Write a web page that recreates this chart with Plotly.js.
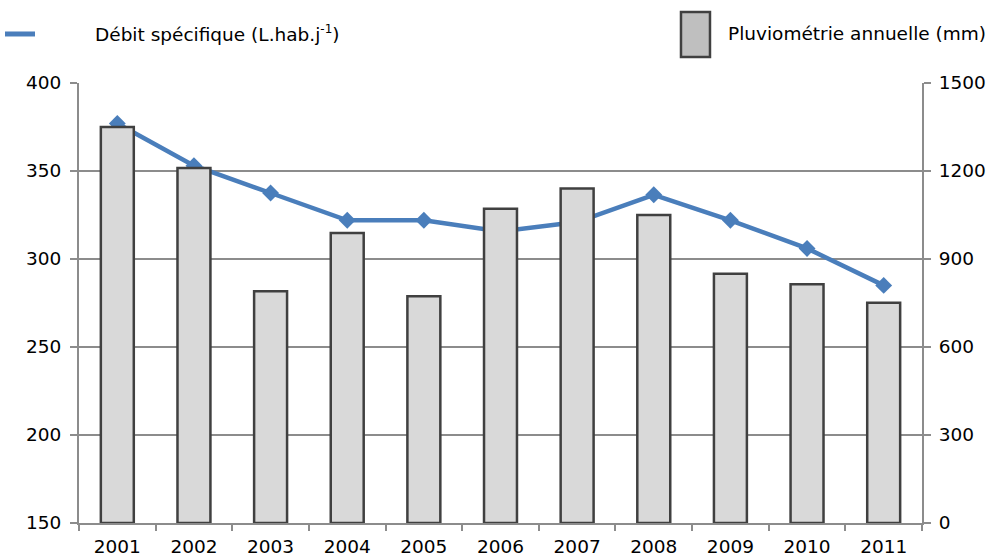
<!DOCTYPE html>
<html>
<head>
<meta charset="utf-8">
<script src="https://cdn.plot.ly/plotly-3.0.1.min.js"></script>
<style>html,body{margin:0;padding:0;background:#fff;}#chart{width:997px;height:557px;}</style>
</head>
<body>
<div id="chart"></div>
<script>
// Années
const years = ['2001','2002','2003','2004','2005','2006','2007','2008','2009','2010','2011'];
// Pluviométrie annuelle (mm) – axe de droite
const rainfall = [1350, 1210, 790, 989, 773, 1071, 1140, 1050, 850, 814, 751];
// Débit spécifique (L.hab.j-1) – axe de gauche
const flow = [377, 353, 337.5, 322, 322, 315.7, 321, 336.5, 322, 306, 285];

const leftTicks = [150, 200, 250, 300, 350, 400];
const rightTicks = [0, 300, 600, 900, 1200, 1500];

const blue = '#4a7ebb';
const gridGrey = '#8c8c8c';
const font = {family: 'DejaVu Sans, Liberation Sans, Arial, sans-serif', size: 18.5, color: '#000'};

const bars = {
  type: 'bar', x: years, y: rainfall, yaxis: 'y2', name: 'Pluviométrie annuelle (mm)',
  marker: {color: '#d9d9d9', line: {color: '#404040', width: 2.5}},
  showlegend: false
};
const line = {
  type: 'scatter', mode: 'lines+markers', x: years, y: flow, yaxis: 'y', name: 'Débit spécifique',
  line: {color: blue, width: 4.5},
  marker: {symbol: 'diamond', size: 13, color: blue},
  showlegend: false
};

const layout = {
  width: 997, height: 557,
  margin: {l: 79, r: 75, t: 83, b: 34},
  paper_bgcolor: '#fff', plot_bgcolor: '#fff',
  font: font,
  bargap: 0.57,
  xaxis: {
    type: 'category', range: [-0.5, years.length - 0.5],
    tickson: 'boundaries', ticks: 'outside', ticklen: 6, tickwidth: 2,
    tickcolor: gridGrey, showline: true, linecolor: gridGrey, linewidth: 2,
    showgrid: false, tickfont: font, ticklabelstandoff: 6
  },
  yaxis: {
    range: [150, 400], tickvals: leftTicks, ticks: 'outside', ticklen: 7, tickwidth: 2,
    tickcolor: gridGrey, showline: true, linecolor: gridGrey, linewidth: 2,
    showgrid: true, gridcolor: gridGrey, gridwidth: 2, zeroline: false,
    tickfont: font, ticklabelstandoff: 5
  },
  yaxis2: {
    range: [0, 1500], tickvals: rightTicks, overlaying: 'y', side: 'right',
    ticks: 'outside', ticklen: 7, tickwidth: 2, tickcolor: gridGrey,
    showline: true, linecolor: gridGrey, linewidth: 2, showgrid: false, zeroline: false,
    tickfont: font, ticklabelstandoff: 4
  },
  shapes: [
    // légende : trait du débit
    {type: 'line', xref: 'paper', yref: 'paper', x0: -0.0878, x1: -0.0522, y0: 1.1114, y1: 1.1114,
     line: {color: blue, width: 5}},
    // légende : case de la pluviométrie
    {type: 'rect', xref: 'paper', yref: 'paper', x0: 0.7141, x1: 0.7485, y0: 1.059, y1: 1.1614,
     fillcolor: '#bfbfbf', line: {color: '#404040', width: 2.5}}
  ],
  annotations: [
    {xref: 'paper', yref: 'paper', x: 0.0166, y: 1.1114, xanchor: 'left', yanchor: 'middle',
     text: 'Débit spécifique (L.hab.j<sup><span style="font-size:12px">-1</span></sup>)',
     showarrow: false, font: font},
    {xref: 'paper', yref: 'paper', x: 0.7675, y: 1.1114, xanchor: 'left', yanchor: 'middle',
     text: 'Pluviométrie annuelle (mm)', showarrow: false, font: font}
  ]
};

Plotly.newPlot('chart', [bars, line], layout, {displayModeBar: false, staticPlot: true});
</script>
</body>
</html>
